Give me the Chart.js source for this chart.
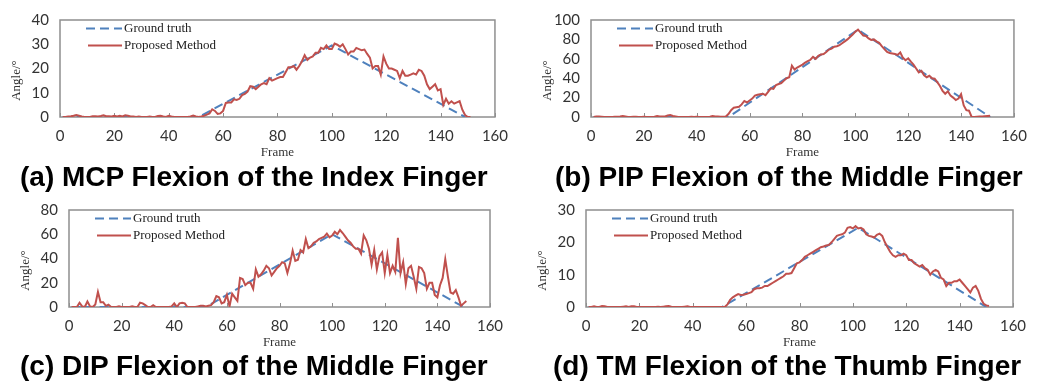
<!DOCTYPE html>
<html lang="en">
<head>
<meta charset="UTF-8">
<title>Flexion angles: ground truth vs proposed method</title>
<script src="https://cdn.jsdelivr.net/npm/chart.js"></script>
<style>
  body { margin: 0; background: #fff; width: 1037px; height: 382px; position: relative; overflow: hidden; }
  canvas { position: absolute; }
  .cap { position: absolute; font-family: "Liberation Sans", Arial, sans-serif; font-weight: bold;
         font-size: 28px; line-height: 32px; color: #000; white-space: nowrap; }
</style>
</head>
<body>
<canvas id="chartA" width="518" height="162" style="left:0;top:0"></canvas>
<canvas id="chartB" width="517" height="162" style="left:520px;top:0"></canvas>
<canvas id="chartC" width="518" height="162" style="left:0;top:190px"></canvas>
<canvas id="chartD" width="517" height="162" style="left:520px;top:190px"></canvas>
<div class="cap" style="left:20px;top:161px">(a) MCP Flexion of the Index Finger</div>
<div class="cap" style="left:555px;top:161px">(b) PIP Flexion of the Middle Finger</div>
<div class="cap" style="left:20px;top:350px">(c) DIP Flexion of the Middle Finger</div>
<div class="cap" style="left:553px;top:350px">(d) TM Flexion of the Thumb Finger</div>
<script>
// series labels
const seriesNames = ['Ground truth', 'Proposed Method'];

// ground truth key frames / angles (straight segments)
const gtFramesA = [1, 51, 100, 149];
const gtAnglesA = [0, 0, 29.5, 0];
const gtFramesB = [1, 52, 101, 151];
const gtAnglesB = [0, 0, 90, 0];
const gtFramesC = [1, 52, 100, 150];
const gtAnglesC = [0, 0, 60, 0];
const gtFramesD = [1, 51, 102, 150];
const gtAnglesD = [0, 0, 24.5, 0];

// proposed method, one value per frame starting at frame 1
const proposedA = [
  0, 0, 0.2, 0.3, 0.5, 0.8, 0.5, 0.2, 0, 0,
  0, 0.3, 0.3, 0.2, 0.4, 0.7, 0.3, 0.3, 0.2, 0.5,
  0.2, 0.5, 0.2, 0.7, 0.5, 0.2, 0.2, 0, 0.2, 0,
  0, 0, 0.2, 0, 0, 0.4, 0.5, 0.2, 0, 0.5,
  0.2, 0, 0, 0, 0, 0, 0, 0.2, 0.6, 0.2,
  0, 0.2, 0.5, 1, 1.5, 3.2, 2.5, 1.3, 1.5, 2.5,
  5.8, 6, 6, 7.3, 7, 7.5, 9, 9.5, 10.5, 12.7,
  12.5, 11.5, 12.5, 13.5, 14, 13.5, 16, 15, 15.5, 16,
  16.5, 16.5, 18.5, 20.5, 20.5, 21, 19.5, 21, 23, 25.5,
  23.5, 24.5, 25, 26.5, 26.5, 28.5, 28, 29.5, 28, 28,
  30.3, 29.8, 29, 30, 28, 25.8, 27, 27, 28.5, 28,
  27.5, 27.8, 26, 24.5, 20, 21, 21, 17.5, 25, 22,
  20, 20, 19.5, 19, 16, 19, 17, 17, 17.5, 18,
  17.5, 19.5, 19, 17, 13.5, 11.5, 12.5, 13.5, 11, 11.5,
  5, 7.5, 5.5, 6.5, 5.5, 6, 6.5, 3, 0.8, 0,
  0
];
const proposedB = [
  0, 0.5, 0.5, 0.3, 0, 0, 0, 0, 0.3, 0.3,
  0.5, 1, 0.5, 0, 0, 0.3, 0.3, 0, 0, 0.3,
  0, 0, 0, 0.3, 1, 0.5, 0.5, 0.5, 1.5, 2,
  1, 0.5, 0, 0, 0, 0, 0, 0.3, 0, 0.3,
  0, 0, 0, 0, 0.3, 1, 0.5, 0.5, 0.3, 0.3,
  0.5, 3, 7, 9.5, 10, 10.5, 13, 16.5, 15, 17,
  19, 22, 23, 23.5, 24, 22.5, 26, 29.5, 29, 33,
  34, 35, 37.5, 40, 41, 53, 49, 51, 52.5, 54,
  56, 57.5, 59, 62, 60, 63, 64.5, 65, 67, 69.5,
  70.5, 72.5, 73, 74, 76, 78, 80, 82.5, 85, 88,
  90, 87, 84, 83.5, 81, 79.5, 80, 78, 76.5, 73,
  70, 67, 66, 65.5, 65, 64, 66.5, 61, 58.5, 60.5,
  57, 54, 50, 46, 47.5, 43, 41, 42.5, 40, 39.5,
  36, 32, 27, 24, 26.5, 22, 20, 17.5, 19, 23.5,
  12, 7, 6.5, 0, 0, 0.3, 0.5, 0.5, 0.8, 1,
  1.2
];
const proposedC = [
  0, 0, 0, 3.5, 0.5, 0, 4.5, 0.5, 0, 2,
  12.5, 4, 4, 1, 2, 0, 0, 0, 0.5, 0,
  0, 0, 0, 0.5, 0, 0, 3.5, 3, 1.5, 0,
  0, 1.5, 0, 0, 0, 0, 0, 0, 0.5, 3,
  0, 3, 3.5, 3, 0, 0, 0, 0, 0.5, 1,
  1, 0.5, 1, 1.5, 4, 9, 8, 3, 4, 10,
  0.5, 11, 8, 5, 24, 23, 18, 20, 20, 15,
  31, 25, 27, 30, 34, 32, 26, 29, 32, 34,
  37, 36, 28, 36, 46.5, 38, 39, 47, 45, 56,
  48.5, 50, 53, 54, 56, 57, 58, 60.5, 57.5, 59,
  62, 60, 63.5, 61, 58, 55, 53, 50, 48, 48,
  44, 59, 55, 48, 35, 47, 31, 42, 45, 28,
  43, 28, 34, 29, 57, 28, 37, 19, 32, 34,
  25, 15, 33, 32, 28, 15, 20, 20, 10, 8,
  18, 24, 39.5, 25, 12, 11, 14, 8, 1, 3,
  5
];
const proposedD = [
  0, 0, 0.2, 0, 0, 0.3, 0.2, 0, 0, 0,
  0, 0, 0, 0.1, 0.2, 0, 0.2, 0.2, 0, 0,
  0, 0, 0, 0, 0, 0, 0.1, 0, 0.1, 0.2,
  0.3, 0.1, 0, 0, 0, 0, 0.1, 0.2, 0, 0,
  0, 0, 0, 0, 0, 0, 0, 0, 0, 0,
  0, 0, 0.8, 2.2, 3, 3.5, 4, 3.7, 3.8, 4,
  4.3, 4.6, 5.5, 5.8, 5.8, 6, 6.5, 6.5, 7, 7.5,
  8, 8.5, 9, 9.5, 10.3, 10.3, 10.5, 12, 13.5, 13.8,
  14.5, 15.5, 16, 16.5, 17, 17.5, 18, 18.5, 18.7, 19,
  19.2, 20, 21, 22, 22.3, 22.5, 23, 24.5, 24.7, 24.3,
  25, 24.3, 24.5, 24, 22.5, 22, 21.8, 21.5, 22.3, 22.7,
  22, 20, 18.5, 17, 16, 15.5, 16, 16, 16.5, 16,
  14.5, 14.5, 13.5, 13, 12.5, 13, 12, 11.5, 10, 11,
  11.5, 11, 9, 8.5, 6.5, 7.5, 7.5, 8, 8, 8.5,
  7.5, 6.5, 5.5, 4.5, 6, 6.5, 5, 2.5, 1, 0.5,
  0.3
];

// axis ranges
const frameMax = 160, frameStep = 20;
const angleMaxes = [40, 100, 80, 30];
const angleSteps = [10, 20, 20, 10];

const RED = '#c0504d';
const BLUE = '#4f81bd';

// decorations: plot frame, inward x ticks, legend, rotated y title
const decor = {
  id: 'decor',
  beforeDatasetsDraw(chart) {
    const { ctx, chartArea: a, scales } = chart;
    ctx.save();
    ctx.strokeStyle = '#8f8f8f';
    ctx.lineWidth = 1.5;
    ctx.strokeRect(a.left, a.top, a.right - a.left, a.bottom - a.top);
    ctx.lineWidth = 1;
    ctx.beginPath();
    scales.x.ticks.forEach(t => {
      const px = Math.round(scales.x.getPixelForValue(t.value)) + 0.5;
      ctx.moveTo(px, a.bottom);
      ctx.lineTo(px, a.bottom - 4);
    });
    ctx.stroke();
    ctx.restore();
  },
  afterDraw(chart) {
    const { ctx, chartArea: a } = chart;
    ctx.save();
    const x0 = a.left + 26, x1 = a.left + 62;
    const y1 = a.top + 8.5, y2 = a.top + 25.5;
    ctx.lineWidth = 2;
    ctx.strokeStyle = BLUE;
    ctx.setLineDash([9, 5]);
    ctx.beginPath(); ctx.moveTo(x0, y1); ctx.lineTo(x1, y1); ctx.stroke();
    ctx.setLineDash([]);
    ctx.strokeStyle = RED;
    ctx.beginPath(); ctx.moveTo(x0 + 2, y2); ctx.lineTo(x1, y2); ctx.stroke();
    ctx.fillStyle = '#222';
    ctx.font = '13px "Liberation Serif", "Times New Roman", serif';
    ctx.textBaseline = 'middle';
    ctx.textAlign = 'left';
    ctx.fillText(seriesNames[0], x1 + 2, y1);
    ctx.fillText(seriesNames[1], x1 + 2, y2);
    // y axis title
    ctx.translate(a.left - 43, (a.top + a.bottom) / 2 + 12);
    ctx.rotate(-Math.PI / 2);
    ctx.textAlign = 'center';
    ctx.fillStyle = '#333';
    ctx.fillText('Angle/°', 0, 0);
    ctx.restore();
  }
};

const panels = [
  { id: 'chartA', gtF: gtFramesA, gtA: gtAnglesA, vals: proposedA, yw: 60, top: 12, right: 21 },
  { id: 'chartB', gtF: gtFramesB, gtA: gtAnglesB, vals: proposedB, yw: 71, top: 12, right: 12 },
  { id: 'chartC', gtF: gtFramesC, gtA: gtAnglesC, vals: proposedC, yw: 69, top: 10, right: 28 },
  { id: 'chartD', gtF: gtFramesD, gtA: gtAnglesD, vals: proposedD, yw: 66, top: 10, right: 24 }
];

const tickFont = { family: 'Lato, "Liberation Sans", sans-serif', size: 15 };

panels.forEach((p, i) => {
  const ctx = document.getElementById(p.id).getContext('2d');
  new Chart(ctx, {
    type: 'line',
    data: {
      datasets: [
        {
          label: seriesNames[0],
          data: p.gtF.map((f, k) => ({ x: f, y: p.gtA[k] })),
          borderColor: BLUE,
          borderWidth: 2,
          borderDash: [9, 5],
          pointRadius: 0,
          order: 2
        },
        {
          label: seriesNames[1],
          data: p.vals.map((v, k) => ({ x: k + 1, y: v })),
          borderColor: RED,
          borderWidth: 2,
          pointRadius: 0,
          order: 1
        }
      ]
    },
    options: {
      responsive: false,
      animation: false,
      devicePixelRatio: 1,
      layout: { padding: { left: 0, top: p.top, right: p.right, bottom: 0 } },
      plugins: { legend: { display: false }, tooltip: { enabled: false } },
      scales: {
        x: {
          type: 'linear',
          min: 0,
          max: frameMax,
          ticks: { stepSize: frameStep, padding: 10, color: '#333', font: tickFont, maxRotation: 0, autoSkip: false },
          grid: { display: false, drawTicks: false },
          border: { display: false },
          title: {
            display: true,
            text: 'Frame',
            color: '#333',
            font: { family: '"Liberation Serif", "Times New Roman", serif', size: 13 },
            padding: { top: 0, bottom: 2 }
          },
          afterFit: s => { s.height = 45; }
        },
        y: {
          min: 0,
          max: angleMaxes[i],
          ticks: { stepSize: angleSteps[i], padding: 11, color: '#333', font: tickFont, autoSkip: false },
          grid: { display: false, drawTicks: false },
          border: { display: false },
          afterFit: s => { s.width = p.yw; }
        }
      }
    },
    plugins: [decor]
  });
});
</script>
</body>
</html>
